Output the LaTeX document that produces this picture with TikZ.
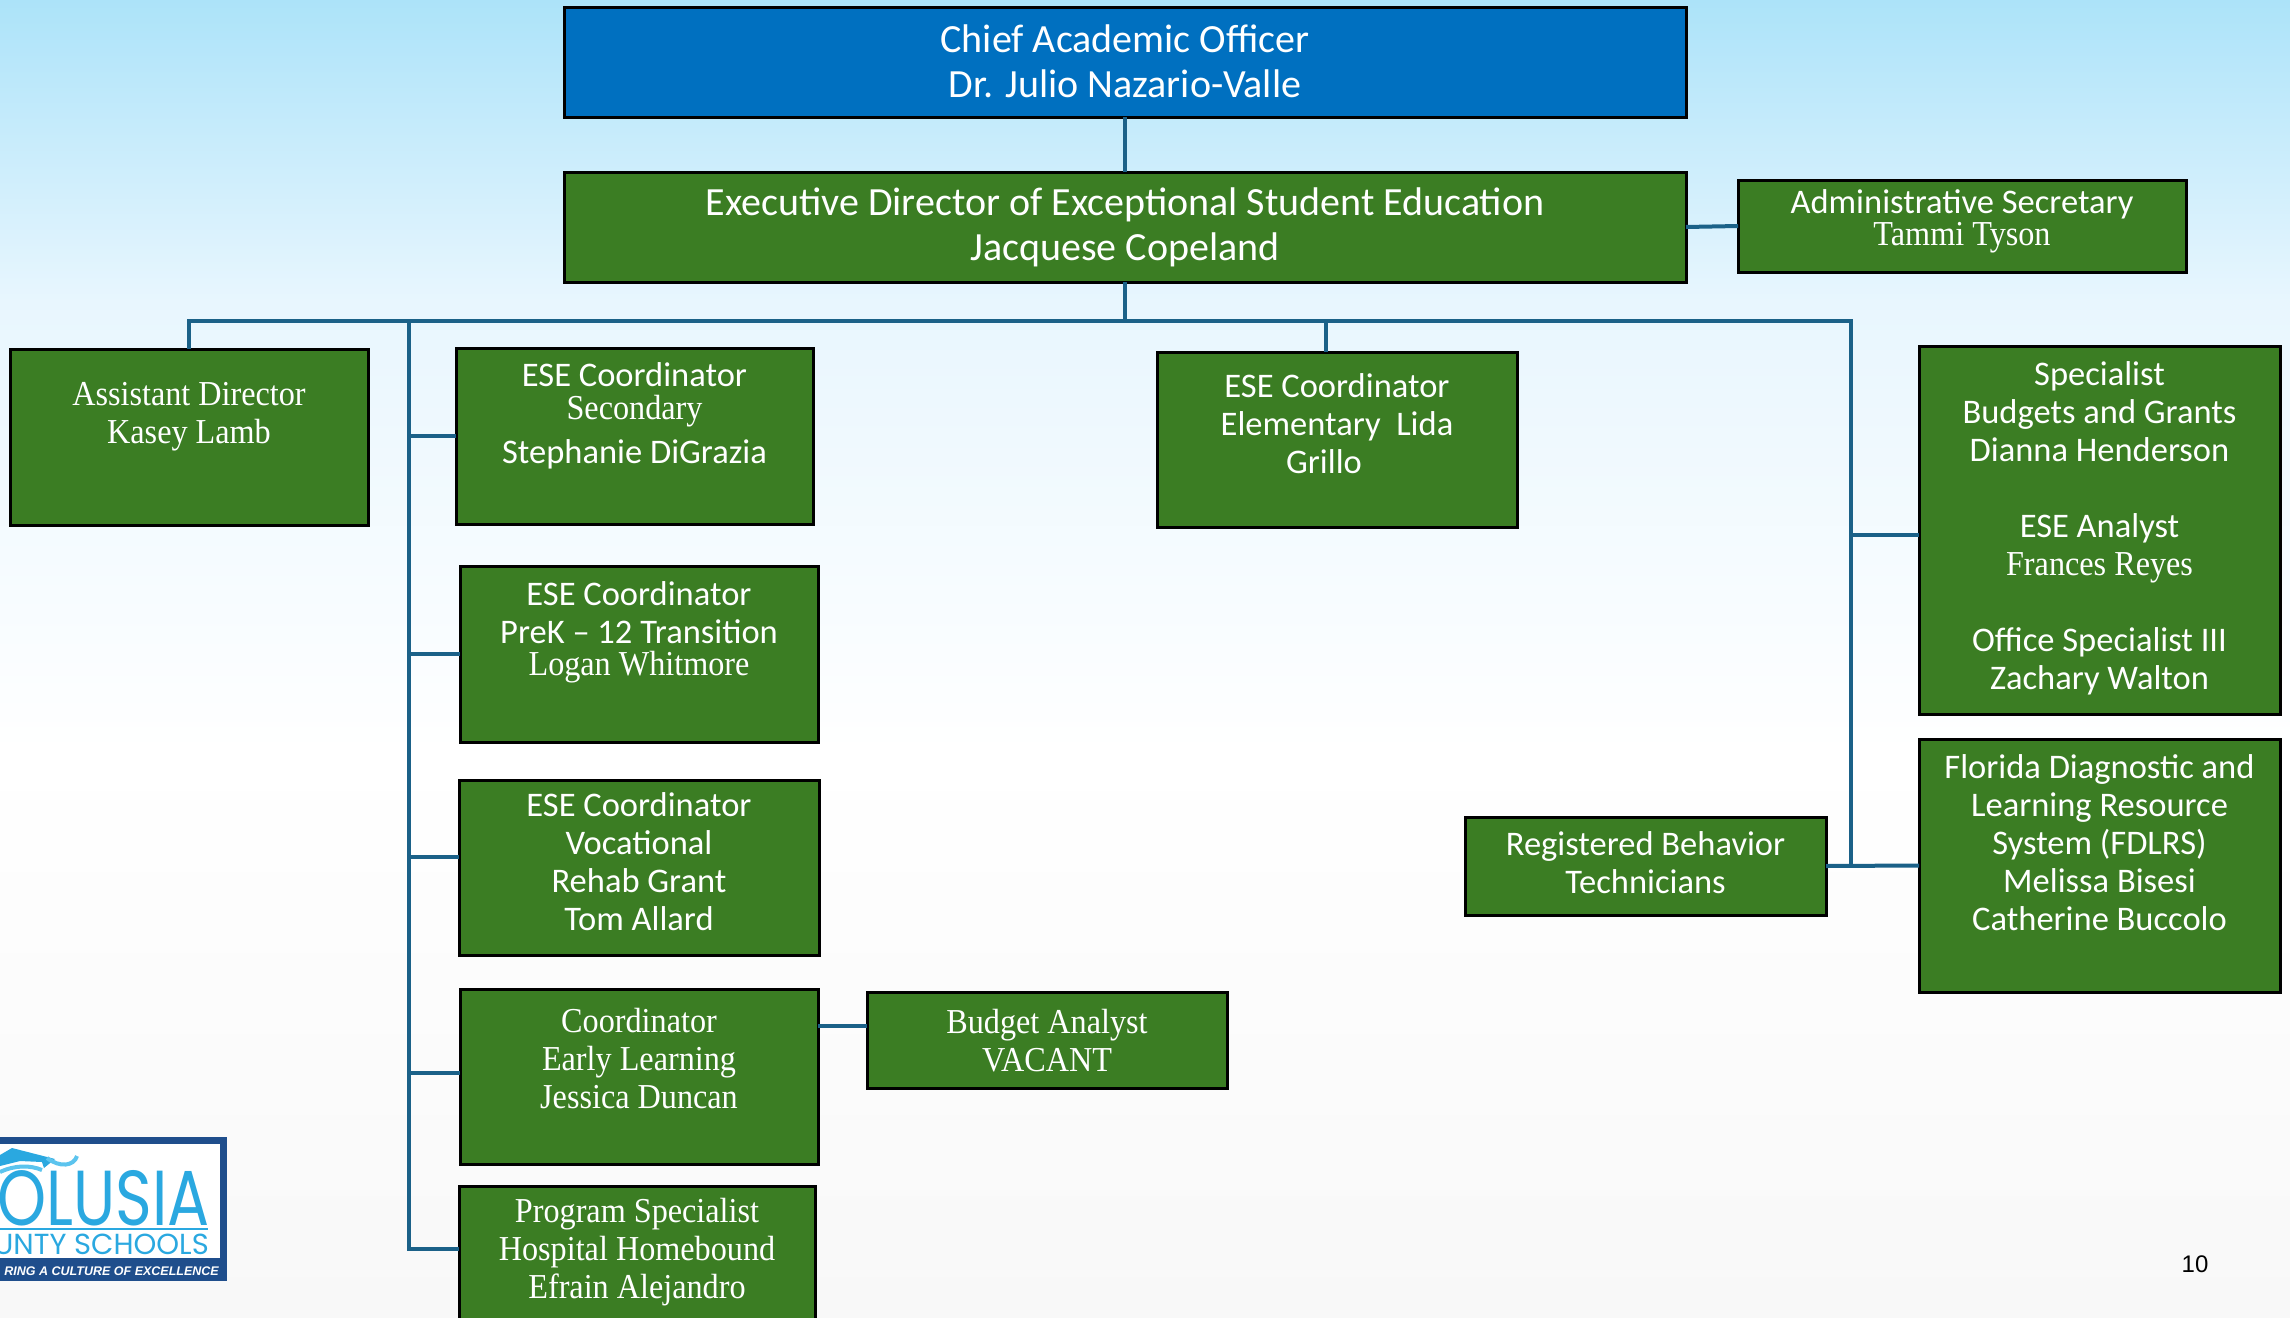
\documentclass[tikz,border=0pt]{standalone}
\usepackage{fontspec}
\setmainfont{Carlito}
\newfontfamily\logofont[FakeStretch=0.8]{Poppins}
\newfontfamily\logosub{Poppins}
\newfontfamily\logobold{Liberation Sans}
\newfontfamily\numfont{Liberation Sans}
\newfontfamily\serifb[FakeStretch=0.92]{Liberation Serif}
\definecolor{boxgreen}{HTML}{3B7D23}
\definecolor{boxblue}{HTML}{0070C0}
\definecolor{linkc}{HTML}{1B6188}
\definecolor{logoblue}{HTML}{2AA8E0}
\definecolor{logolight}{HTML}{5CC4EE}
\definecolor{logonavy}{HTML}{1F4E8C}
% #1 width #2 height #3 top offset #4 lines
\newcommand{\bx}[4]{\parbox[t][#2pt][t]{#1pt}{\centering\vspace*{#3pt}\baselineskip=38pt #4\par}}
\newcommand{\ap}[1]{{\fontsize{34.5}{38}\selectfont #1}}
\newcommand{\sr}[1]{{\serifb\fontsize{35}{38}\selectfont #1}}
\newcommand{\apb}[1]{{\fontsize{40}{45}\selectfont #1}}
\tikzset{
  orgbox/.style={draw=black,line width=3pt,fill=boxgreen,text=white,inner sep=0pt,outer sep=0pt,anchor=north west,align=center},
  topbox/.style={orgbox,fill=boxblue},
  link/.style={draw=linkc,line width=4pt},
}
\begin{document}
\begin{tikzpicture}[x=1pt,y=-1pt]
\useasboundingbox (0,0) rectangle (2290,1317);
\shade[top color={rgb,255:red,172;green,227;blue,249},bottom color={rgb,255:red,232;green,246;blue,254}] (0,0) rectangle (2290,301);
\shade[top color={rgb,255:red,232;green,246;blue,254},bottom color=white] (0,300) rectangle (2290,751);
\shade[top color=white,bottom color={rgb,255:red,248;green,248;blue,248}] (0,750) rectangle (2290,1317);

\node[topbox] (cao) at (564,7) {\bx{1122}{110}{18}{\apb{Chief Academic Officer}\\[7pt]\apb{Dr. Julio Nazario-Valle}}};
\node[orgbox] (exec) at (564,172) {\bx{1122}{110}{16}{\apb{Executive Director of Exceptional Student Education}\\[7pt]\apb{Jacquese Copeland}}};
\node[orgbox] (admin) at (1738,180) {\bx{448}{92}{10}{\ap{Administrative Secretary}\\[-6pt]\sr{Tammi Tyson}}};
\node[orgbox] (assist) at (10,349) {\bx{358}{176}{33}{\sr{Assistant Director}\\\sr{Kasey Lamb}}};
\node[orgbox] (sec) at (456,348) {\bx{357}{176}{15}{\ap{ESE Coordinator}\\[-5pt]\sr{Secondary}\\[6pt]\ap{Stephanie DiGrazia}}};
\node[orgbox] (prek) at (460,566) {\bx{358}{176}{16}{\ap{ESE Coordinator}\\\ap{PreK -- 12 Transition}\\[-6pt]\sr{Logan Whitmore}}};
\node[orgbox] (voc) at (459,780) {\bx{360}{175}{13}{\ap{ESE Coordinator}\\\ap{Vocational}\\\ap{Rehab Grant}\\\ap{Tom Allard}}};
\node[orgbox] (early) at (460,989) {\bx{358}{175}{19}{\sr{Coordinator}\\\sr{Early Learning}\\\sr{Jessica Duncan}}};
\node[orgbox] (budget) at (867,992) {\bx{360}{96}{17}{\sr{Budget Analyst}\\\sr{VACANT}}};
\node[orgbox] (prog) at (459,1186) {\bx{356}{140}{12}{\sr{Program Specialist}\\\sr{Hospital Homebound}\\\sr{Efrain Alejandro}}};
\node[orgbox] (elem) at (1157,352) {\bx{360}{175}{22}{\ap{ESE Coordinator}\hspace*{26pt}\\\ap{Elementary\ \ Lida}\hspace*{26pt}\\\ap{Grillo}\hspace*{26pt}}};
\node[orgbox] (spec) at (1919,346) {\bx{361}{368}{16}{\ap{Specialist}\\\ap{Budgets and Grants}\\\ap{Dianna Henderson}\\[38pt]\ap{ESE Analyst}\\\sr{Frances Reyes}\\[38pt]\ap{Office Specialist III}\\\ap{Zachary Walton}}};
\node[orgbox] (fdlrs) at (1919,739) {\bx{361}{253}{16}{\ap{Florida Diagnostic and}\\\ap{Learning Resource}\\\ap{System (FDLRS)}\\\ap{Melissa Bisesi}\\\ap{Catherine Buccolo}}};
\node[orgbox] (rbt) at (1465,817) {\bx{361}{98}{15}{\ap{Registered Behavior}\\\ap{Technicians}}};

\coordinate (busL) at (189,321);
\coordinate (busS) at (409,321);
\coordinate (busM) at (1125,321);
\coordinate (busE) at (1326,321);
\coordinate (busR) at (1851,321);
\coordinate (spineEnd) at (409,1251);
\coordinate (rightEnd) at (1851,868);
\coordinate (j1) at (409,436);
\coordinate (j2) at (409,654);
\coordinate (j3) at (409,857);
\coordinate (j4) at (409,1073);
\coordinate (j5) at (409,1249);
\coordinate (jr) at (1851,535);
\coordinate (jb) at (867,1026);

\draw[link] (cao.south) -- (exec.north);
\draw[link] (exec.east) -- (admin.west);
\draw[link] (exec.south) -- (busM);
\draw[link,line cap=rect] (busL) -- (busR);
\draw[link] (busL) -- (assist.north);
\draw[link] (busE) -- (busE |- elem.north);
\draw[link] (busS) -- (spineEnd);
\draw[link] (busR) -- (rightEnd);
\draw[link] (j1) -- (j1 -| sec.west);
\draw[link] (j2) -- (j2 -| prek.west);
\draw[link] (j3) -- (j3 -| voc.west);
\draw[link] (j4) -- (j4 -| early.west);
\draw[link] (j5) -- (j5 -| prog.west);
\draw[link] (jr) -- (jr -| spec.west);
\draw[link] (jb -| early.east) -- (jb);
\draw[link] (rbt.east) -- (fdlrs.west);

% logo
\fill[logonavy] (0,1137) rectangle (227,1281);
\fill[white] (0,1144) rectangle (220,1258);
\begin{scope}
\clip (0,1137) rectangle (227,1281);
\draw[logolight,line width=4pt] (0,1172) .. controls (15,1165) and (30,1165) .. (42,1170);
\fill[logoblue] (0,1155) -- (12,1148) -- (55,1159) -- (44,1168) -- (42,1162) -- (20,1161) -- (0,1166) -- cycle;
\draw[logolight,line width=4pt] (47,1158) .. controls (60,1168) and (74,1166) .. (77,1156);
\draw[logoblue,line width=1.5pt] (0,1229) -- (208,1229);
\node[text=logoblue,font=\logofont\fontsize{78}{78}\selectfont,anchor=base east,inner sep=0pt] (logotitle) at (210,1225) {OLUSIA};
\node[text=logoblue,font=\logosub\fontsize{29}{29}\selectfont,anchor=base east,inner sep=0pt] (logosubt) at (209,1254) {UNTY SCHOOLS};
\node[text=white,font=\logobold\bfseries\itshape\fontsize{12.5}{14}\selectfont,anchor=base east,inner sep=0pt] (logotag) at (219,1275) {RING A CULTURE OF EXCELLENCE};
\end{scope}
\node[font=\numfont\fontsize{24}{24}\selectfont,anchor=base,inner sep=0pt,text=black] (pageno) at (2195,1272) {10};
\end{tikzpicture}
\end{document}
